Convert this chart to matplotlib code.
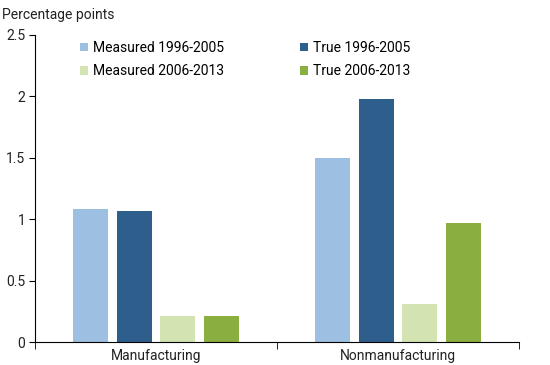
import matplotlib
matplotlib.use("Agg")
import matplotlib.pyplot as plt
import numpy as np

plt.rcParams['font.family'] = ['Roboto', 'DejaVu Sans']

categories = ["Manufacturing", "Nonmanufacturing"]
series_names = ["Measured 1996-2005", "True 1996-2005", "Measured 2006-2013", "True 2006-2013"]
measured_96_05 = [1.08, 1.50]
true_96_05 = [1.07, 1.98]
measured_06_13 = [0.21, 0.31]
true_06_13 = [0.21, 0.97]
yticks = [0, 0.5, 1, 1.5, 2, 2.5]
ytick_labels = ["0", "0.5", "1", "1.5", "2", "2.5"]

colors = ["#9DBFE1", "#2E5E8C", "#D3E3B1", "#8AAF40"]
series = [measured_96_05, true_96_05, measured_06_13, true_06_13]

fig = plt.figure(figsize=(5.5, 3.65), dpi=100)
ax = fig.add_axes([35/550, 23/365, 484/550, 307/365])

x = np.arange(len(categories))
offsets = [-0.27, -0.09, 0.09, 0.27]
width = 0.143
handles = []
for vals, off, c, name in zip(series, offsets, colors, series_names):
    h = ax.bar(x + off, vals, width=width, color=c, label=name)
    handles.append(h)

fs = 10
ax.set_xlim(-0.5, 1.5)
ax.set_ylim(0, 2.5)
ax.set_yticks(yticks)
ax.set_yticklabels(ytick_labels, fontsize=fs, color="#222222")
ax.set_xticks(x)
ax.set_xticklabels(categories, fontsize=fs, color="#222222")
ax.tick_params(axis='x', which='major', length=0, pad=5)
ax.set_xticks([-0.5, 0.5, 1.5], minor=True)
ax.tick_params(axis='x', which='minor', length=5, direction='out', color='black')
ax.tick_params(axis='y', length=4, direction='out', pad=3)
for s in ['top', 'right']:
    ax.spines[s].set_visible(False)
ax.spines['left'].set_color('black')
ax.spines['bottom'].set_color('black')

# legend order: row1: Measured 96-05, True 96-05; row2: Measured 06-13, True 06-13
order = [0, 2, 1, 3]
leg = ax.legend([handles[i] for i in order], [series_names[i] for i in order],
                ncol=2, loc='upper left', bbox_to_anchor=(0.093, 0.980), frameon=False,
                fontsize=fs, handlelength=0.55, handleheight=0.55, handletextpad=0.36,
                columnspacing=5.5, labelspacing=0.66, borderaxespad=0, borderpad=0)

fig.text(2/550, 1 - 15/365, "Percentage points", fontsize=fs, color="#222222", va='center', ha='left')

fig.savefig("out.png", dpi=100)
